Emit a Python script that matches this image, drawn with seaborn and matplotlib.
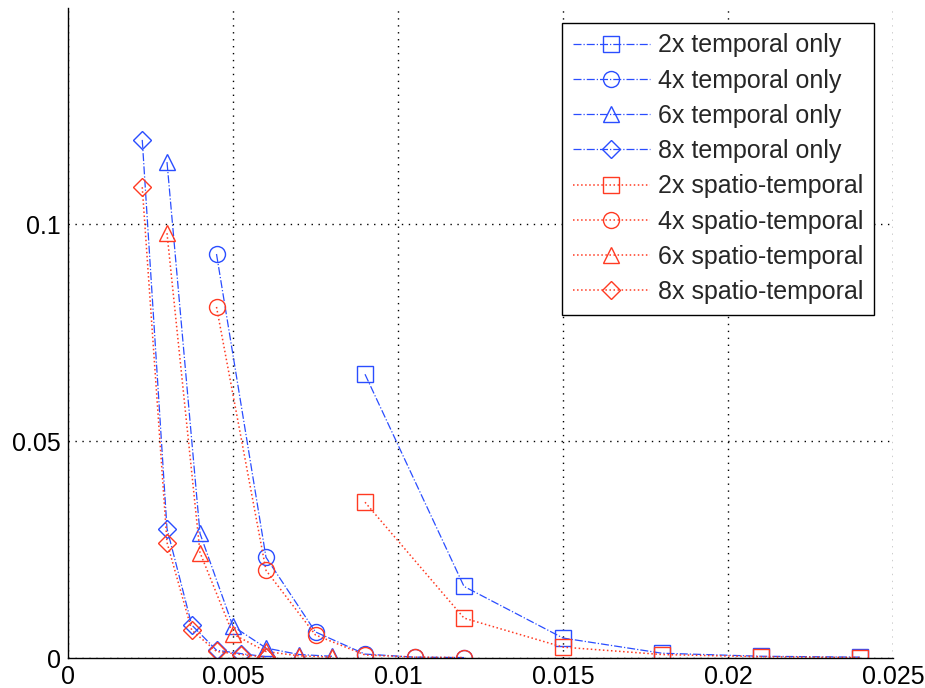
import numpy as np
import pandas as pd
import matplotlib
matplotlib.use("Agg")
import matplotlib.pyplot as plt
import seaborn as sns

# sampling positions for each upsampling factor
x_2x = [0.009, 0.012, 0.015, 0.018, 0.021, 0.024]
x_4x = [0.0045, 0.006, 0.0075, 0.009, 0.0105, 0.012]
x_6x = [0.003, 0.004, 0.005, 0.006, 0.007, 0.008]
x_8x = [0.00225, 0.003, 0.00375, 0.0045, 0.00525, 0.006]

# temporal-only results
temporal_2x = [0.0654, 0.0165, 0.0046, 0.0011, 0.0004, 0.0002]
temporal_4x = [0.0931, 0.0232, 0.0060, 0.0009, 0.0002, 0.0001]
temporal_6x = [0.1143, 0.0287, 0.0073, 0.0023, 0.0008, 0.0004]
temporal_8x = [0.1194, 0.0298, 0.0076, 0.0018, 0.0010, 0.0003]

# spatio-temporal results
spatio_2x = [0.0359, 0.0092, 0.0025, 0.0008, 0.0003, 0.0001]
spatio_4x = [0.0809, 0.0202, 0.0053, 0.0007, 0.0002, 0.0001]
spatio_6x = [0.0979, 0.0243, 0.0055, 0.0015, 0.0005, 0.0002]
spatio_8x = [0.1085, 0.0266, 0.0064, 0.0015, 0.0008, 0.0002]

labels_temporal = ["2x temporal only", "4x temporal only", "6x temporal only", "8x temporal only"]
labels_spatio = ["2x spatio-temporal", "4x spatio-temporal", "6x spatio-temporal", "8x spatio-temporal"]

x_ticks = [0, 0.005, 0.01, 0.015, 0.02, 0.025]
x_ticklabels = ["0", "0.005", "0.01", "0.015", "0.02", "0.025"]
y_ticks = [0, 0.05, 0.1]
y_ticklabels = ["0", "0.05", "0.1"]

sns.set_style("white")
plt.rcParams["font.family"] = ["Liberation Sans", "DejaVu Sans"]

BLUE = "#2a4dff"
RED = "#ff3a22"
markers = ["s", "o", "^", "D"]
msizes = [11, 11.5, 12, 9]

fig = plt.figure(figsize=(9.25, 6.88), dpi=100)
ax = fig.add_axes([68 / 925, 30 / 688, 825 / 925, 650 / 688])

xs = [x_2x, x_4x, x_6x, x_8x]
temporal = [temporal_2x, temporal_4x, temporal_6x, temporal_8x]
spatio = [spatio_2x, spatio_4x, spatio_6x, spatio_8x]

for xv, yv, lab, mk, ms in zip(xs, temporal, labels_temporal, markers, msizes):
    sns.lineplot(x=xv, y=yv, ax=ax, color=BLUE, linestyle="-.", linewidth=0.9,
                 marker=mk, markersize=ms, markerfacecolor="none",
                 markeredgecolor=BLUE, markeredgewidth=1.0, label=lab, sort=False)

for xv, yv, lab, mk, ms in zip(xs, spatio, labels_spatio, markers, msizes):
    sns.lineplot(x=xv, y=yv, ax=ax, color=RED, linestyle=":", linewidth=1.1,
                 marker=mk, markersize=ms, markerfacecolor="none",
                 markeredgecolor=RED, markeredgewidth=1.0, label=lab, sort=False)

ax.set_xlim(0, 0.025)
ax.set_ylim(0, 0.1498)
ax.set_xticks(x_ticks)
ax.set_xticklabels(x_ticklabels)
ax.set_yticks(y_ticks)
ax.set_yticklabels(y_ticklabels)
ax.tick_params(direction="in", length=5, width=0.8, labelsize=18, colors="black", pad=5)

ax.grid(True, color="black", linestyle=(0, (1, 4)), linewidth=1.0)
for side in ["top", "right"]:
    ax.spines[side].set_visible(False)
for side in ["left", "bottom"]:
    ax.spines[side].set_color("black")
    ax.spines[side].set_linewidth(1.0)
ax.set_xlabel("")
ax.set_ylabel("")

leg = ax.legend(loc="upper right", bbox_to_anchor=(0.977, 0.977), borderaxespad=0,
                fontsize=18, handlelength=3.1, handletextpad=0.32, labelspacing=0.45,
                fancybox=False, framealpha=1, edgecolor="black", borderpad=0.42)
leg.get_frame().set_linewidth(1.0)

fig.savefig("out.png", dpi=100)
